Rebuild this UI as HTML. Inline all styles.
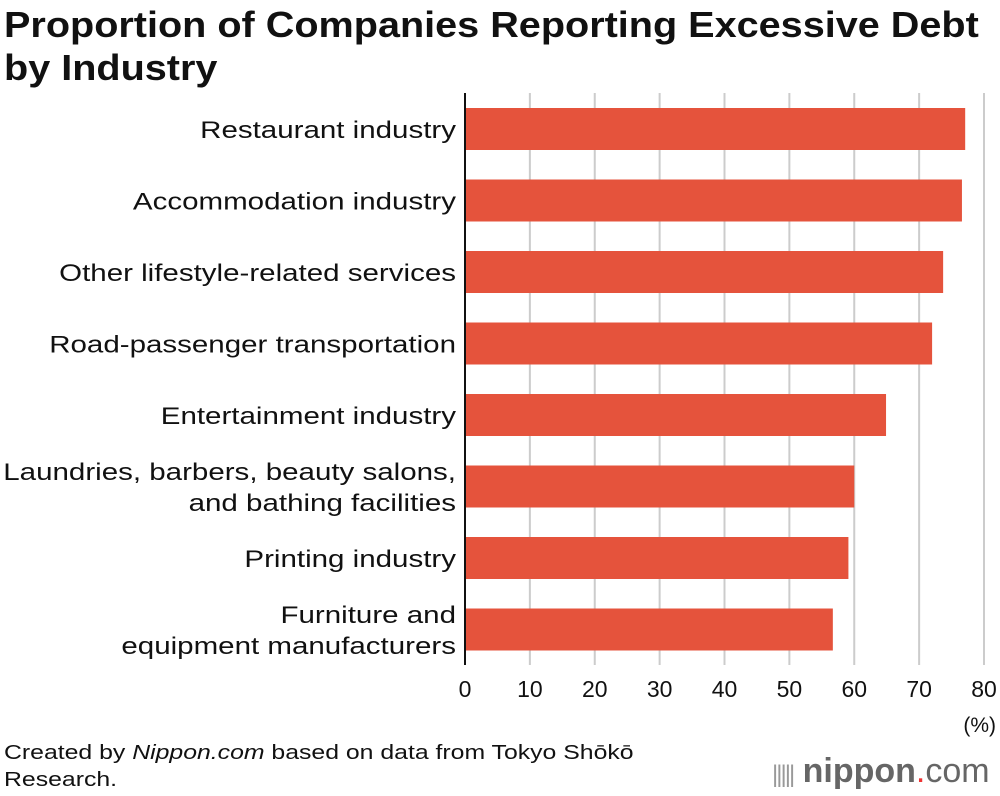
<!DOCTYPE html>
<html><head><meta charset="utf-8"><style>
body{margin:0;width:1000px;height:796px;background:#fff;font-family:"Liberation Sans",sans-serif;overflow:hidden;position:relative}
#title{position:absolute;left:4px;top:3px;font-size:36px;font-weight:bold;line-height:43px;color:#111;transform:scaleX(1.1);transform-origin:0 0;white-space:nowrap}
#src{position:absolute;left:4px;top:740px;font-size:20px;line-height:27px;color:#111;transform:scaleX(1.24);transform-origin:0 0;white-space:nowrap}
#logo{position:absolute;left:772px;top:752px;font-size:34px;color:#666;white-space:nowrap}
</style></head><body>
<div id="title">Proportion of Companies Reporting Excessive Debt<br>by Industry</div>
<svg id="chart" width="1000" height="796" style="position:absolute;left:0;top:0"></svg>
<div id="src">Created by <i>Nippon.com</i> based on data from Tokyo Shōkō<br>Research.</div>
<div id="logo"><span style="font-size:24px;letter-spacing:-2px;color:#999">|||||</span> <b>nippon</b><span style="color:#e33">.</span>com</div>
<script>
const categories=[["Restaurant industry"],["Accommodation industry"],["Other lifestyle-related services"],["Road-passenger transportation"],["Entertainment industry"],["Laundries, barbers, beauty salons,","and bathing facilities"],["Printing industry"],["Furniture and","equipment manufacturers"]];
const values=[77.1,76.6,73.7,72.0,64.9,60.0,59.1,56.7];
const ticks=[0,10,20,30,40,50,60,70,80];
const svg=document.getElementById('chart');const NS='http://www.w3.org/2000/svg';
const x=v=>465+v*(984-465)/80;
const y=i=>108+i*71.5;
function mk(t,a){const e=document.createElementNS(NS,t);for(const k in a)e.setAttribute(k,a[k]);svg.appendChild(e);return e;}
ticks.forEach(t=>{
 if(t>0){const g=mk('line',{x1:x(t),x2:x(t),y1:93,y2:665,stroke:'#ccc','stroke-width':2});
 
 }
 const l=mk('text',{x:x(t),y:697,'text-anchor':'middle','font-size':23,fill:'#111'});l.textContent=t;
 
 
});
const u=mk('text',{x:996,y:732,'text-anchor':'end','font-size':21,fill:'#111'});u.textContent='(%)';


values.forEach((v,i)=>{
 const r=mk('rect',{x:x(0),y:y(i),width:x(v)-x(0),height:42,fill:'#e5533c'});
 
 
 const lines=categories[i];const cy=y(i)+21;
 lines.forEach((s,j)=>{const ty=cy+9+(j-(lines.length-1)/2)*31;
 const t=mk('text',{x:0,y:0,transform:'translate(456,'+ty+') scale(1.23,1)','text-anchor':'end','font-size':24,fill:'#111'});t.textContent=s;
 
 });
});
const ax=mk('line',{x1:465,x2:465,y1:93,y2:665,stroke:'#111','stroke-width':2});


</script>
</body></html>
